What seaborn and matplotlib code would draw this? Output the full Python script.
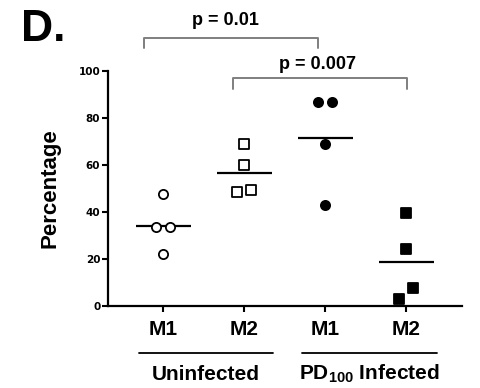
import pandas as pd
import numpy as np
import seaborn as sns
import matplotlib.pyplot as plt

# values (percentage per animal)
groups = ["Uninfected M1", "Uninfected M2", "PD100 M1", "PD100 M2"]
tick_labels = ["M1", "M2", "M1", "M2"]
uninf_m1 = [47.5, 33.5, 33.5, 22.0]
uninf_m2 = [68.8, 60.1, 48.4, 49.4]
pd_m1 = [87.0, 87.0, 68.8, 43.1]
pd_m2 = [39.4, 24.4, 7.7, 3.0]
comparisons = ["p = 0.01", "p = 0.007"]


def dodge(values, width=0.085, tol=6.0):
    # side-by-side placement for points that would sit on top of each other
    offs = [0.0] * len(values)
    for i in range(len(values)):
        for j in range(i + 1, len(values)):
            if abs(values[i] - values[j]) < tol and offs[i] == 0 and offs[j] == 0:
                lo, hi = (i, j) if values[i] <= values[j] else (j, i)
                offs[lo], offs[hi] = -width, width
    return offs


rows = []
for k, vals in enumerate([uninf_m1, uninf_m2, pd_m1, pd_m2]):
    for v, o in zip(vals, dodge(vals)):
        rows.append({"group": groups[k], "pos": k + o, "value": v})
df = pd.DataFrame(rows)

sns.set_style("ticks")
plt.rcParams["font.family"] = ["Liberation Sans", "DejaVu Sans"]
plt.rcParams["font.weight"] = "bold"
plt.rcParams["text.color"] = "black"
plt.rcParams["axes.labelcolor"] = "black"
plt.rcParams["xtick.color"] = "black"
plt.rcParams["ytick.color"] = "black"
plt.rcParams["mathtext.fontset"] = "custom"
plt.rcParams["mathtext.bf"] = "Liberation Sans:bold"
plt.rcParams["mathtext.rm"] = "Liberation Sans:bold"
plt.rcParams["mathtext.default"] = "bf"

fig = plt.figure(figsize=(4.8, 3.88), dpi=100)
ax = fig.add_axes([0.225, 0.2113, 0.7375, 0.6057])

styles = [("o", "white"), ("s", "white"), ("o", "black"), ("s", "black")]
for g, (m, fc) in zip(groups, styles):
    sub = df[df["group"] == g]
    sns.scatterplot(data=sub, x="pos", y="value", marker=m, color=fc,
                    edgecolor="black", linewidth=1.3, s=44, ax=ax,
                    clip_on=False, zorder=3)

# group means as short horizontal bars
means = df.groupby("group", sort=False)["value"].mean()
for k, g in enumerate(groups):
    ax.hlines(means[g], k - 0.34, k + 0.34, color="black", lw=1.6, zorder=2)

ax.set_xlim(-0.68, 3.69)
ax.set_ylim(0, 100)
ax.set_xticks(range(4))
ax.set_xticklabels(tick_labels, fontsize=15, fontweight="bold")
ax.set_yticks(range(0, 101, 20))
ax.set_yticklabels([str(t) for t in range(0, 101, 20)], fontsize=7.5,
                   fontweight="bold", family="DejaVu Sans")
ax.tick_params(axis="both", direction="out", length=4, width=1.5, color="black")
ax.tick_params(axis="x", pad=6)
ax.tick_params(axis="y", pad=1.5)
ax.set_xlabel("")
ax.set_ylabel("Percentage", fontsize=16, fontweight="bold", labelpad=13)
sns.despine(ax=ax)
for sp in ["left", "bottom"]:
    ax.spines[sp].set_linewidth(1.6)
    ax.spines[sp].set_color("black")

# significance brackets
br = dict(color="#7f7f7f", lw=1.4, clip_on=False)
ax.plot([-0.23, -0.23, 1.91, 1.91], [110, 114, 114, 110], **br)
ax.plot([0.86, 0.86, 3.01, 3.01], [92.3, 97, 97, 92.3], **br)
ax.text(0.77, 121.5, comparisons[0], ha="center", va="center",
        fontsize=13, fontweight="bold")
ax.text(1.91, 102.8, comparisons[1], ha="center", va="center",
        fontsize=13, fontweight="bold")

# group labels under the axis
tr = ax.get_xaxis_transform()
ax.plot([-0.30, 1.36], [-0.199, -0.199], color="black", lw=1.3,
        transform=tr, clip_on=False)
ax.plot([1.72, 3.38], [-0.199, -0.199], color="black", lw=1.3,
        transform=tr, clip_on=False)
ax.text(0.53, -0.29, "Uninfected", transform=tr, ha="center", va="center",
        fontsize=15, fontweight="bold")
ax.text(2.55, -0.29, r"PD$_{100}$ Infected", transform=tr, ha="center",
        va="center", fontsize=15, fontweight="bold")

fig.text(0.043, 0.925, "D.", fontsize=32, fontweight="bold", ha="left",
         va="center")

plt.savefig("out.png", dpi=100)
